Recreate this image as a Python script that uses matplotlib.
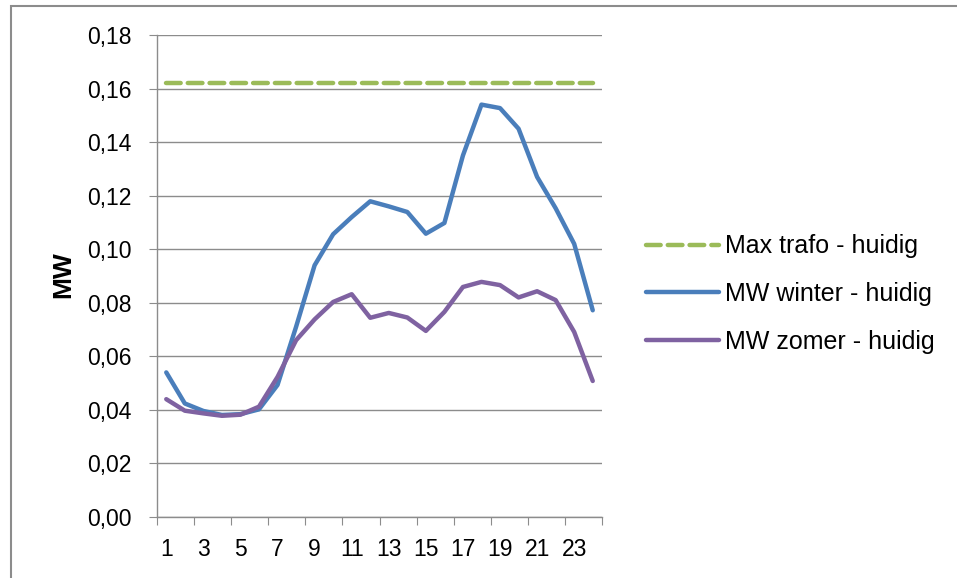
import matplotlib
matplotlib.use("Agg")
import matplotlib.pyplot as plt
from matplotlib.patches import Rectangle
from matplotlib.ticker import FixedLocator, FuncFormatter

plt.rcParams['font.family'] = ['Liberation Sans', 'DejaVu Sans']

hours = list(range(1, 25))
max_trafo = [0.162] * 24
mw_winter = [0.054, 0.0424, 0.0396, 0.0381, 0.0384, 0.0402, 0.0493, 0.071,
             0.094, 0.1056, 0.112, 0.1179, 0.116, 0.1139, 0.1058, 0.1098,
             0.135, 0.154, 0.1527, 0.145, 0.127, 0.1153, 0.102, 0.0772]
mw_zomer = [0.044, 0.0397, 0.0387, 0.0378, 0.0382, 0.0412, 0.0523, 0.066,
            0.0738, 0.0803, 0.0832, 0.0744, 0.0762, 0.0745, 0.0695, 0.0766,
            0.0859, 0.0878, 0.0866, 0.082, 0.0843, 0.081, 0.0691, 0.0508]
labels = ["Max trafo - huidig", "MW winter - huidig", "MW zomer - huidig"]
y_ticks = [0.0, 0.02, 0.04, 0.06, 0.08, 0.10, 0.12, 0.14, 0.16, 0.18]

fig = plt.figure(figsize=(9.57, 5.78), dpi=100)
ax = fig.add_axes([157/957, 61/578, 445/957, 482/578])

# outer chart frame
fig.patches.append(Rectangle((11/957, -0.1), 1.2, (572/578) + 0.1,
                             transform=fig.transFigure, fill=False,
                             edgecolor='#8c8c8c', linewidth=1.5))

ax.plot(hours, max_trafo, color='#9BBB59', linewidth=3.2, dashes=(3.3, 1.6),
        dash_capstyle='round', label=labels[0])
ax.plot(hours, mw_winter, color='#4A7EBB', linewidth=3.2,
        solid_capstyle='round', label=labels[1])
ax.plot(hours, mw_zomer, color='#7F62A1', linewidth=3.2,
        solid_capstyle='round', label=labels[2])

ax.set_xlim(0.5, 24.5)
ax.set_ylim(0, 0.18)
ax.set_yticks(y_ticks)
ax.yaxis.set_major_formatter(FuncFormatter(lambda v, p: f"{v:.2f}".replace('.', ',')))
ax.grid(axis='y', color='#8c8c8c', linewidth=1)
ax.set_axisbelow(True)

# ticks at category boundaries, labels on odd hours
ax.xaxis.set_major_locator(FixedLocator([0.5 + 2 * i for i in range(13)]))
ax.xaxis.set_major_formatter(FuncFormatter(lambda v, p: ""))
ax.xaxis.set_minor_locator(FixedLocator(hours[::2]))
ax.xaxis.set_minor_formatter(FuncFormatter(lambda v, p: str(int(v))))
ax.tick_params(axis='x', which='major', length=6, color='#8c8c8c', direction='out')
ax.tick_params(axis='x', which='minor', length=0, labelsize=16.5, pad=15)
ax.tick_params(axis='y', length=6, color='#8c8c8c', labelsize=16.5, pad=12)

for s in ['top', 'right']:
    ax.spines[s].set_visible(False)
for s in ['left', 'bottom']:
    ax.spines[s].set_color('#8c8c8c')
    ax.spines[s].set_linewidth(1)

fig.text(63/957, 1 - 275/578, "MW", rotation=90, fontsize=19, fontweight='bold',
         ha='center', va='center')

fig.legend(loc='center left', bbox_to_anchor=(636/957, 1 - 294/578), frameon=False,
           fontsize=18, handlelength=2.9, handletextpad=0.25, labelspacing=0.95,
           borderaxespad=0)

fig.savefig("out.png", dpi=100)
